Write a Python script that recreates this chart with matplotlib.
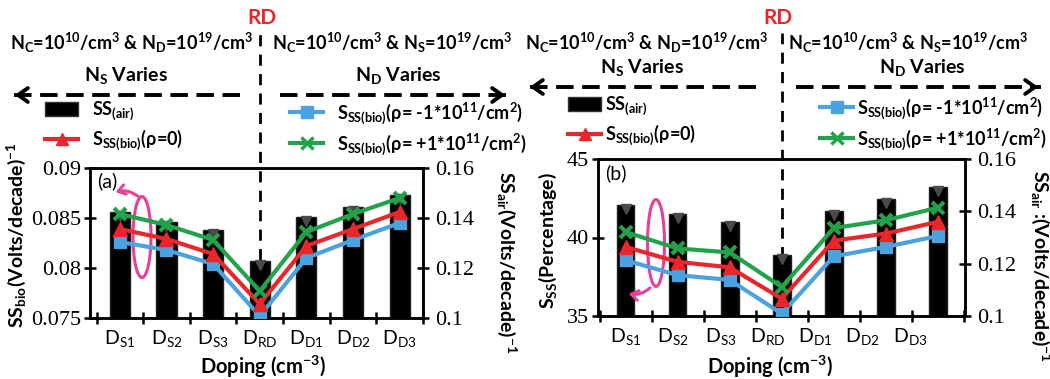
import numpy as np
import matplotlib
matplotlib.use('Agg')
import matplotlib.pyplot as plt
from matplotlib.lines import Line2D
from matplotlib.patches import Patch, Ellipse, FancyArrowPatch
from matplotlib import transforms

plt.rcParams['font.family'] = ['Lato', 'DejaVu Sans']
plt.rcParams['mathtext.fontset'] = 'custom'
plt.rcParams['mathtext.default'] = 'regular'

W, H = 1050, 379

categories = ['D$_{S1}$', 'D$_{S2}$', 'D$_{S3}$', 'D$_{RD}$', 'D$_{D1}$', 'D$_{D2}$', 'D$_{D3}$']

# panel (a): SS_bio in V/dec (left axis), SS_air bars (right axis)
air_a = [0.1425, 0.1386, 0.1352, 0.1228, 0.1405, 0.1444, 0.1492]
neg_a = [0.0826, 0.0818, 0.0804, 0.0752, 0.0810, 0.0828, 0.0845]
zero_a = [0.0839, 0.0829, 0.0814, 0.0764, 0.0822, 0.0839, 0.0856]
pos_a = [0.0854, 0.0843, 0.0828, 0.0777, 0.0836, 0.0854, 0.0870]

# panel (b): sensitivity in % (left axis), SS_air bars (right axis)
air_b = [0.1426, 0.1388, 0.1358, 0.1235, 0.1403, 0.1447, 0.1494]
neg_b = [38.55, 37.6, 37.3, 35.15, 38.8, 39.4, 40.1]
zero_b = [39.4, 38.45, 38.1, 36.1, 39.8, 40.25, 41.0]
pos_b = [40.35, 39.3, 39.05, 36.85, 40.6, 41.1, 41.9]

BLUE = '#4aa3df'
RED = '#e8262b'
GREEN = '#22a24a'
PINK = '#e8409a'


def fx(px):
    return px / W


def fy(py):
    return 1 - py / H


def header(fig, x0, x1, rd_x, arrow_y, top_y):
    # "RD" tag and the two doping conditions
    fig.text(fx(rd_x), fy(18), 'RD', color=RED, fontsize=15, fontweight='bold',
             ha='center', va='center')
    fig.text(fx(x0), fy(top_y), 'N$_C$=10$^{10}$/cm$^3$ & N$_D$=10$^{19}$/cm$^3$',
             fontsize=13, fontweight='bold', ha='left', va='center')
    fig.text(fx(rd_x + 10), fy(top_y), 'N$_C$=10$^{10}$/cm$^3$ & N$_S$=10$^{19}$/cm$^3$',
             fontsize=13, fontweight='bold', ha='left', va='center')
    fig.text(fx((x0 + rd_x) / 2 - 10), fy(arrow_y - 20), 'N$_S$ Varies', fontsize=14,
             fontweight='bold', ha='center', va='center')
    fig.text(fx((rd_x + x1) / 2 + 12), fy(arrow_y - 20), 'N$_D$ Varies', fontsize=14,
             fontweight='bold', ha='center', va='center')
    # dashed arrows
    for a, b in [(rd_x - 22, x0 + 2), (rd_x + 18, x1 - 2)]:
        fig.add_artist(Line2D([fx(a), fx(b)], [fy(arrow_y), fy(arrow_y)], color='black',
                              lw=2.8, ls=(0, (4.5, 2.2)), transform=fig.transFigure))
        back = 12 if b < a else -12
        fig.add_artist(FancyArrowPatch(
            (fx(b + back), fy(arrow_y)), (fx(b), fy(arrow_y)),
            arrowstyle='->,head_length=7,head_width=5', lw=2.8, color='black',
            transform=fig.transFigure, mutation_scale=1))


def legends(ax, fig, left_x, right_x, y1, txt_pad):
    h_air = Patch(facecolor='black', edgecolor='#333333')
    h_zero = Line2D([], [], color=RED, lw=3, marker='^', ms=9)
    h_neg = Line2D([], [], color=BLUE, lw=3, marker='s', ms=8)
    h_pos = Line2D([], [], color=GREEN, lw=3, marker='x', ms=8, mew=2.5)
    prop = {'weight': 'bold', 'size': 13, 'family': ['Lato', 'DejaVu Sans']}
    kw = dict(loc='upper left', frameon=False, prop=prop, borderpad=0, borderaxespad=0,
              handlelength=1.85, handleheight=0.75, labelspacing=0.3, handletextpad=txt_pad,
              bbox_transform=fig.transFigure)
    leg1 = ax.legend([h_air, h_zero], ['SS$_{(air)}$', 'S$_{SS(bio)}$(ρ=0)'],
                     bbox_to_anchor=(fx(left_x), fy(y1 - 13)), **kw)
    ax.add_artist(leg1)
    ax.legend([h_neg, h_pos],
              ['S$_{SS(bio)}$(ρ= -1*10$^{11}$/cm$^2$)', 'S$_{SS(bio)}$(ρ= +1*10$^{11}$/cm$^2$)'],
              bbox_to_anchor=(fx(right_x), fy(y1 - 13)), **kw)


def panel(fig, rect, xlim, bw, air, neg, zero, pos, ylim, yticks, yticklabels,
          lab_pos, ylabel, y2label, tag, lab_coords, r_coords, xl_coords):
    ax = fig.add_axes(rect)
    ax2 = ax.twinx()
    ax.set_zorder(ax2.get_zorder() + 1)
    ax.patch.set_visible(False)
    x = np.arange(len(categories))

    # bars of SS(air) on the right axis
    ax2.bar(x, np.array(air) - 0.1, bottom=0.1, width=bw, color='black',
            edgecolor='#222222', zorder=2)
    cap = transforms.offset_copy(ax2.transData, fig=fig, y=-4, units='dots')
    ax2.plot(x, air, ls='none', marker='v', ms=7, color='#4a4a4a', transform=cap, zorder=3)
    ax2.set_ylim(0.1, 0.16)
    ax2.set_yticks([0.1, 0.12, 0.14, 0.16])
    ax2.set_yticklabels(['0.1', '0.12', '0.14', '0.16'])

    # RD dashed separator
    tr = transforms.blended_transform_factory(ax2.transData, ax2.transAxes)
    top = (fy(33) - rect[1]) / rect[3]
    ax2.plot([3, 3], [0, top], transform=tr, color='black', lw=2, ls=(0, (4, 3)),
             clip_on=False, zorder=1)

    ax.plot(x, neg, color=BLUE, lw=3, marker='s', ms=9, zorder=3)
    ax.plot(x, zero, color=RED, lw=3, marker='^', ms=10, zorder=4)
    ax.plot(x, pos, color=GREEN, lw=3, marker='x', ms=9, mew=3, zorder=5)
    ax.set_ylim(*ylim)
    ax.set_yticks(yticks)
    ax.set_yticklabels(yticklabels)
    ax.set_xlim(*xlim)

    ax.set_xticks(np.arange(-0.5, 7, 1))
    ax.set_xticklabels([])
    ax.set_xticks(lab_pos, categories, minor=True)
    ax.tick_params(axis='x', which='minor', length=0, pad=7, labelsize=14)
    ax.tick_params(axis='x', which='major', direction='inout', length=9, width=1.8)
    ax.tick_params(axis='y', direction='inout', length=9, width=1.8, labelsize=16,
                   labelfontfamily='Liberation Serif', pad=2)
    ax2.tick_params(axis='y', direction='inout', length=9, width=1.8, labelsize=16,
                    labelfontfamily='Liberation Serif', pad=4)
    for a in (ax, ax2):
        for s in a.spines.values():
            s.set_linewidth(1.8)

    ax.set_ylabel(ylabel, fontsize=14, fontweight='bold', va='center', ha='center')
    ax.yaxis.set_label_coords(*lab_coords)
    ax2.set_ylabel(y2label, fontsize=14, fontweight='bold', rotation=270,
                   va='center', ha='center')
    ax2.yaxis.set_label_coords(*r_coords)
    ax.set_xlabel('Doping (cm$^{-3}$)', fontsize=14.5, fontweight='bold', va='top')
    ax.xaxis.set_label_coords(*xl_coords)
    ax.text(0.02, 0.91, tag, transform=ax.transAxes, fontsize=14, va='center')
    return ax


fig = plt.figure(figsize=(10.5, 3.79), dpi=100)

# ---- panel (a)
ra = [fx(90), fy(318), fx(423) - fx(90), fy(168) - fy(318)]
ax_a = panel(fig, ra, (-0.64, 6.5), 0.43, air_a, neg_a, zero_a, pos_a,
             (0.075, 0.09), [0.075, 0.08, 0.085, 0.09], ['0.075', '0.08', '0.085', '0.09'],
             np.arange(7), 'SS$_{bio}$(Volts/decade)$^{-1}$', 'SS$_{air}$(Volts/decade)$^{-1}$',
             '(a)', (-0.222, 0.55), (1.25, 0.37), (0.52, -0.24))
header(fig, 10, 510, 262, 95, 43)
legends(ax_a, fig, 45, 290, 113, 0.75)
fig.add_artist(Ellipse((fx(142), fy(237)), fx(18), 81 / H, transform=fig.transFigure,
                       fill=False, edgecolor=PINK, lw=2.2))
ax_a.annotate('', xy=(fx(113), fy(193)), xytext=(fx(140), fy(198)), xycoords='figure fraction',
              arrowprops=dict(arrowstyle='->,head_length=0.5,head_width=0.35', color=PINK,
                              lw=2.2, connectionstyle='arc3,rad=0.3'))

# ---- panel (b)
rb = [fx(598), fy(316), fx(965) - fx(598), fy(159) - fy(316)]
ax_b = panel(fig, rb, (-0.53, 6.52), 0.34, air_b, neg_b, zero_b, pos_b,
             (35, 45), [35, 40, 45], ['35', '40', '45'],
             np.arange(7) * 0.91, 'S$_{SS}$(Percentage)', 'SS$_{air}$ :(Volts/decade)$^{-1}$',
             '(b)', (-0.136, 0.48), (1.205, 0.32), (0.47, -0.242))
header(fig, 525, 1043, 778, 87, 43)
legends(ax_b, fig, 568, 820, 108, 0.2)
fig.add_artist(Ellipse((fx(656), fy(243)), fx(17), 87 / H, transform=fig.transFigure,
                       fill=False, edgecolor=PINK, lw=2.2))
ax_b.annotate('', xy=(fx(626), fy(293)), xytext=(fx(652), fy(286)), xycoords='figure fraction',
              arrowprops=dict(arrowstyle='->,head_length=0.5,head_width=0.35', color=PINK,
                              lw=2.2, connectionstyle='arc3,rad=-0.3'))

fig.savefig('out.png', dpi=100)
